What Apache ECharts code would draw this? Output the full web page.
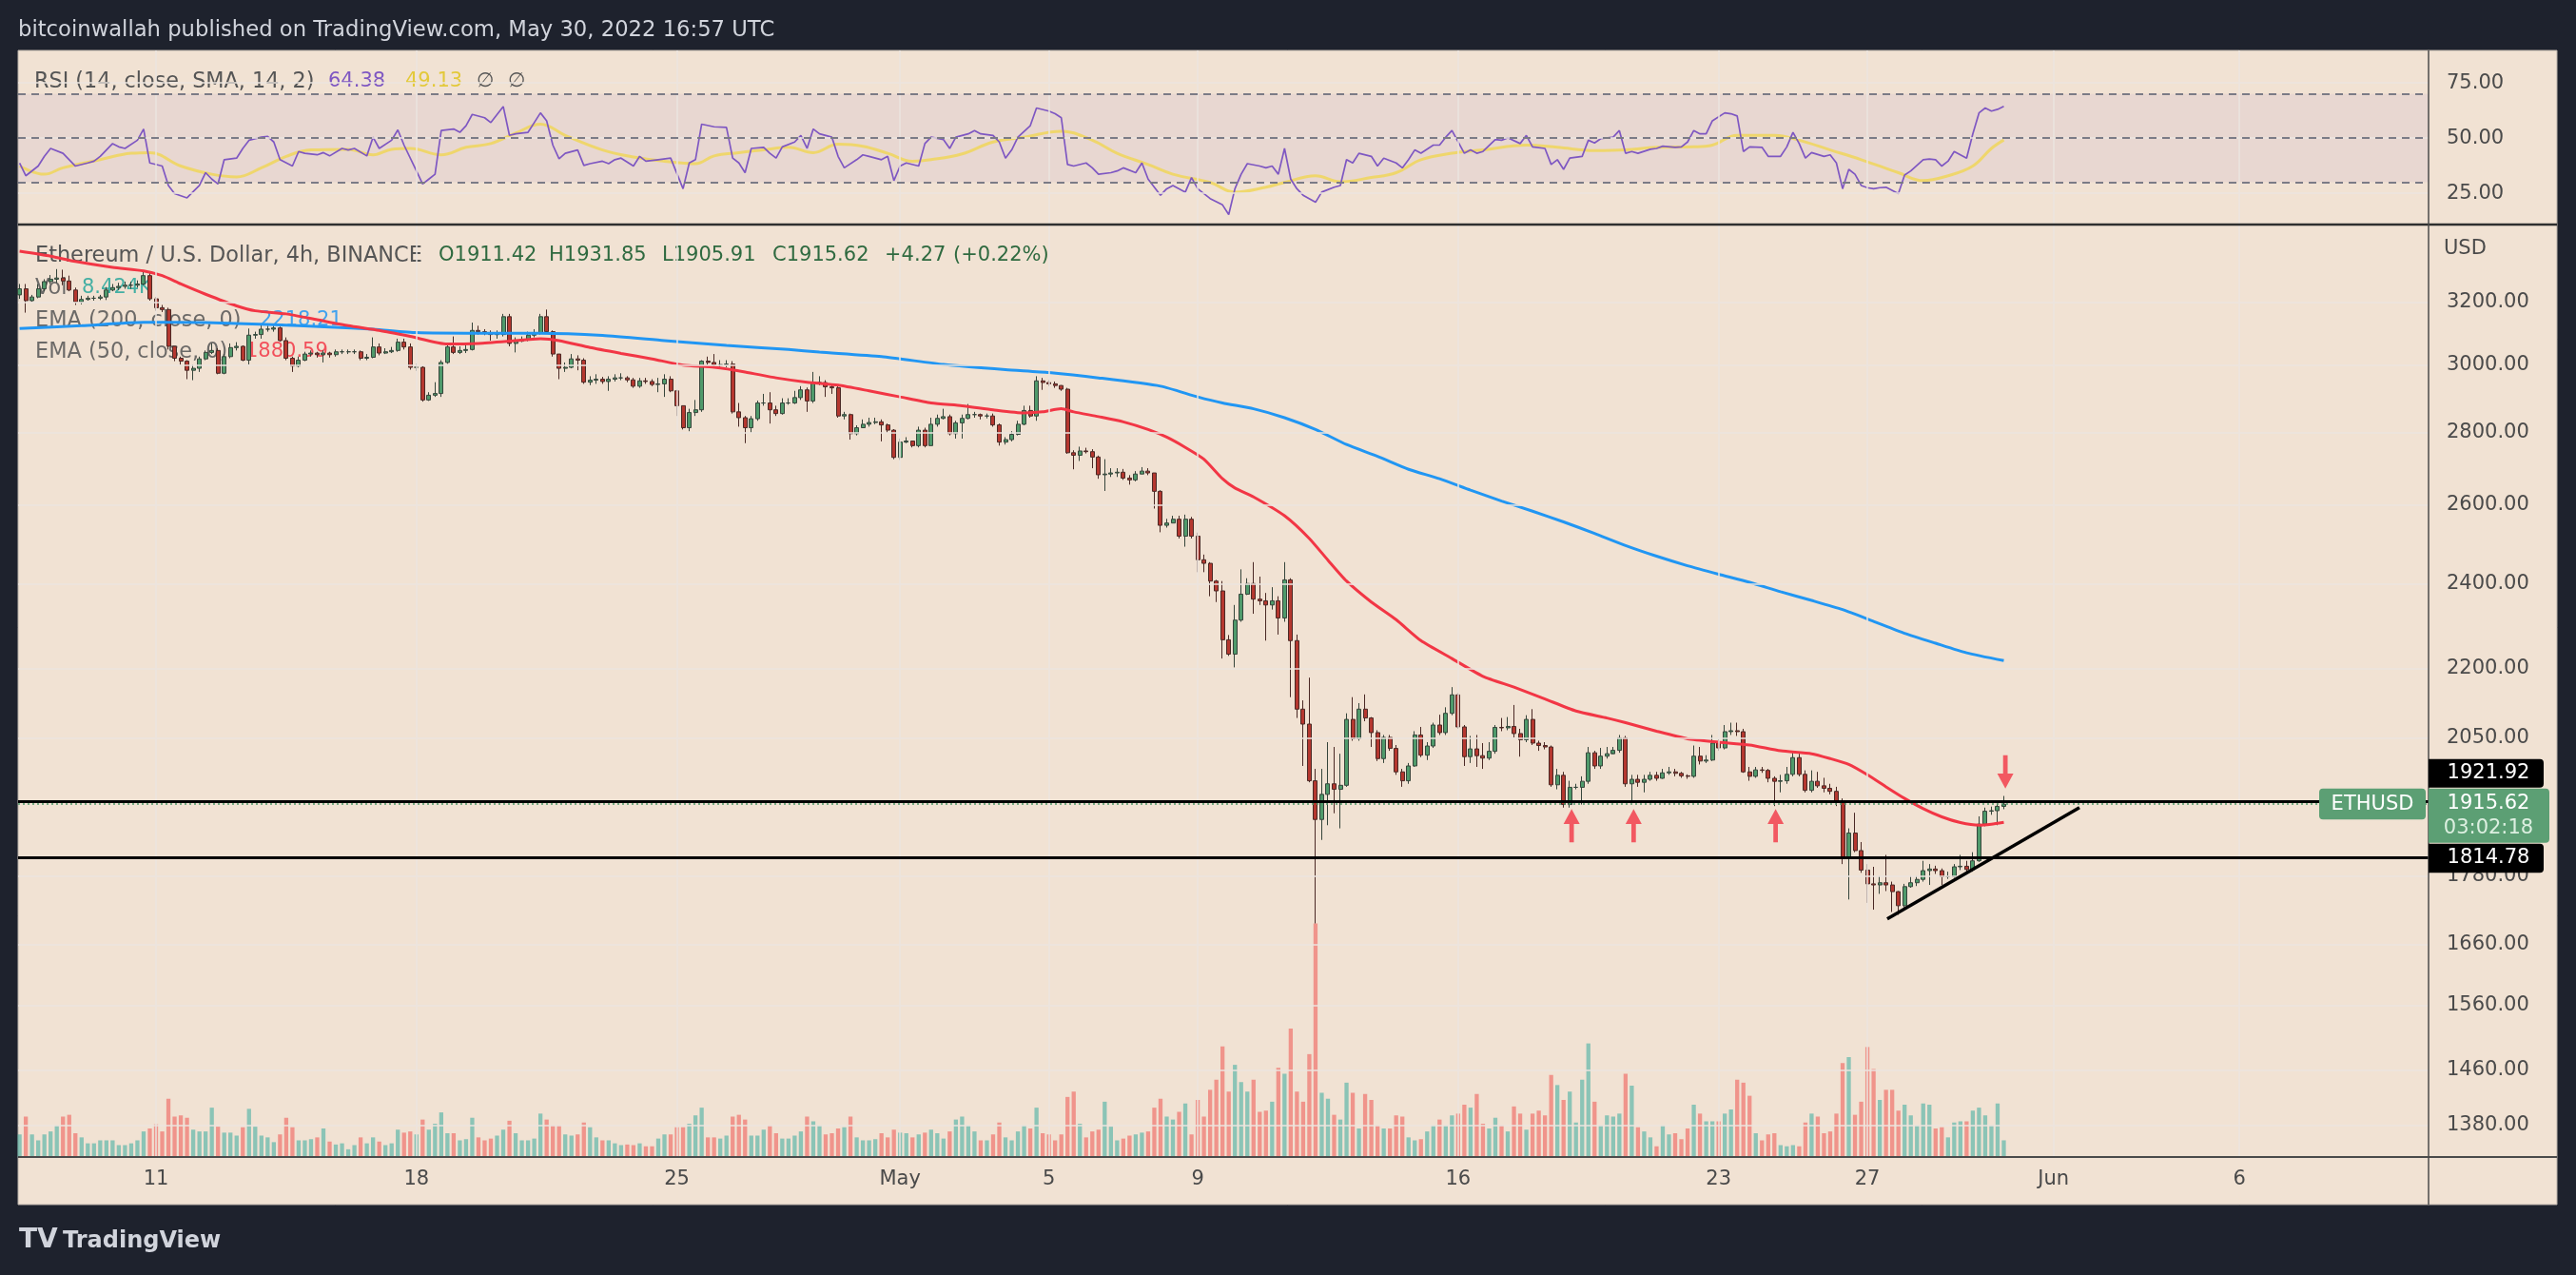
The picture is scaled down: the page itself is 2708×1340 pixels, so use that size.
<!DOCTYPE html>
<html><head><meta charset="utf-8">
<script src="https://cdn.jsdelivr.net/npm/echarts@6/dist/echarts.min.js"></script>
<style>html,body{margin:0;padding:0;background:#1e222d;}#c{width:2708px;height:1340px;}</style>
</head><body><div id="c"></div>
<script>
// ---------------- DATA ----------------
const dayTickIndex = [22,64,106,142,166,190,232,274,298,328,358];
const dayTickText  = ['11','18','25','May','5','9','16','23','27','Jun','6'];
const priceTicks = [3200,3000,2800,2600,2400,2200,2050,1780,1660,1560,1460,1380];
const rsiTicks = [25,50,75];
const rsiLevels = [70,50,30];

const opens = [
3223,3243,3204,3216,3243,3267,3275,3279,3269,3239,
3200,3208,3212,3212,3216,3239,3247,3251,3255,3255,
3259,3287,3210,3181,3175,3058,3021,3012,2984,2990,
3019,3039,3045,2975,3026,3054,3058,3015,3093,3095,
3112,3112,3116,3076,3021,2997,3015,3034,3037,3032,
3037,3032,3041,3041,3041,3041,3021,3024,3056,3037,
3041,3045,3071,3056,2993,2993,2895,2909,2914,3008,
3056,3039,3045,3048,3108,3104,3101,3095,3095,3152,
3067,3074,3080,3093,3101,3152,3104,3034,2990,2993,
3019,3015,2948,2954,2957,2950,2957,2961,2961,2955,
2936,2952,2950,2941,2943,2957,2922,2878,2814,2858,
2866,3012,3008,3001,3001,3003,2860,2843,2814,2840,
2886,2886,2866,2855,2886,2886,2902,2925,2892,2947,
2947,2934,2931,2848,2852,2797,2814,2824,2829,2831,
2822,2807,2730,2773,2776,2763,2807,2763,2824,2841,
2846,2797,2828,2841,2852,2852,2848,2848,2822,2773,
2780,2795,2824,2864,2848,2952,2947,2943,2938,2927,
2743,2736,2748,2746,2731,2682,2684,2687,2689,2673,
2668,2684,2692,2687,2637,2547,2553,2563,2519,2563,
2519,2459,2450,2406,2382,2266,2233,2312,2374,2400,
2362,2358,2348,2358,2317,2409,2264,2111,2079,1962,
1886,1935,1956,1945,1953,2089,2048,2111,2092,2061,
2007,2051,2028,1980,1962,1992,2056,2014,2033,2077,
2061,2102,2142,2073,2011,2027,2013,2008,2022,2072,
2071,2074,2059,2046,2089,2039,2034,2031,1954,1973,
1915,1949,1949,1961,2019,1992,2012,2017,2024,2050,
1956,1965,1959,1965,1973,1967,1978,1980,1977,1972,
1971,2012,2002,2004,2039,2029,2063,2065,2063,1980,
1971,1984,1983,1967,1961,1962,1975,2009,1975,1943,
1961,1952,1947,1941,1922,1813,1860,1827,1791,1766,
1764,1768,1764,1752,1727,1761,1768,1774,1790,1793,
1790,1779,1779,1797,1798,1792,1808,1877,1902,1903,
1911.42];

const closes = [
3243,3204,3216,3243,3267,3275,3279,3269,3239,3200,
3208,3212,3212,3216,3239,3247,3251,3255,3255,3259,
3287,3210,3181,3175,3058,3021,3012,2984,2990,3019,
3039,3045,2975,3026,3054,3058,3015,3093,3095,3112,
3112,3116,3076,3021,2997,3015,3034,3037,3032,3037,
3032,3041,3041,3041,3041,3021,3024,3056,3037,3041,
3045,3071,3056,2993,2993,2895,2909,2914,3008,3056,
3039,3045,3048,3108,3104,3101,3095,3095,3152,3067,
3074,3080,3093,3101,3152,3104,3034,2990,2993,3019,
3015,2948,2954,2957,2950,2957,2961,2961,2955,2936,
2952,2950,2941,2943,2957,2922,2878,2814,2858,2866,
3012,3008,3001,3001,3003,2860,2843,2814,2840,2886,
2886,2866,2855,2886,2886,2902,2925,2892,2947,2947,
2934,2931,2848,2852,2797,2814,2824,2829,2831,2822,
2807,2730,2773,2776,2763,2807,2763,2824,2841,2846,
2797,2828,2841,2852,2852,2848,2848,2822,2773,2780,
2795,2824,2864,2848,2952,2947,2943,2938,2927,2743,
2736,2748,2746,2731,2682,2684,2687,2689,2673,2668,
2684,2692,2687,2637,2547,2553,2563,2519,2563,2519,
2459,2450,2406,2382,2266,2233,2312,2374,2400,2362,
2358,2348,2358,2317,2409,2264,2111,2079,1962,1886,
1935,1956,1945,1953,2089,2048,2111,2092,2061,2007,
2051,2028,1980,1962,1992,2056,2014,2033,2077,2061,
2102,2142,2073,2011,2027,2013,2008,2022,2072,2071,
2074,2059,2046,2089,2039,2034,2031,1954,1973,1915,
1949,1949,1961,2019,1992,2012,2017,2024,2050,1956,
1965,1959,1965,1973,1967,1978,1980,1977,1972,1971,
2012,2002,2004,2039,2029,2063,2065,2063,1980,1971,
1984,1983,1967,1961,1962,1975,2009,1975,1943,1961,
1952,1947,1941,1922,1813,1860,1827,1791,1766,1764,
1768,1764,1752,1727,1761,1768,1774,1790,1793,1790,
1779,1779,1797,1798,1792,1808,1877,1902,1903,1911.42,
1915.62];

const highs = [
3259,3259,3223,3259,3275,3289,3309,3307,3287,3247,
3220,3220,3220,3223,3249,3259,3263,3267,3267,3271,
3299,3299,3216,3190,3181,3058,3026,3015,3001,3026,
3045,3067,3052,3034,3067,3071,3061,3114,3104,3127,
3123,3123,3120,3086,3026,3026,3041,3045,3041,3045,
3041,3048,3048,3048,3048,3045,3034,3086,3067,3052,
3056,3082,3082,3067,3004,2997,2918,2948,3015,3067,
3089,3058,3063,3133,3123,3112,3108,3108,3161,3161,
3086,3089,3104,3112,3161,3175,3108,3034,3008,3034,
3030,3021,2966,2972,2964,2966,2972,2975,2966,2961,
2961,2961,2957,2961,2972,2966,2925,2878,2869,2895,
3015,3026,3034,3015,3015,3012,2886,2848,2848,2893,
2913,2918,2878,2900,2900,2922,2936,2932,2979,2966,
2954,2939,2936,2860,2855,2821,2838,2843,2843,2838,
2826,2810,2783,2787,2776,2817,2814,2843,2852,2869,
2852,2834,2852,2883,2860,2855,2855,2855,2826,2787,
2804,2834,2878,2878,2966,2961,2954,2950,2939,2931,
2750,2760,2757,2753,2735,2725,2700,2700,2698,2681,
2692,2703,2700,2687,2640,2564,2572,2572,2575,2569,
2528,2472,2453,2409,2406,2277,2348,2435,2413,2453,
2417,2377,2391,2369,2453,2413,2278,2130,2180,1986,
1986,2041,2031,2017,2102,2137,2124,2143,2094,2066,
2056,2056,2035,1986,1998,2064,2073,2041,2082,2099,
2115,2159,2146,2077,2054,2056,2039,2041,2077,2092,
2094,2120,2069,2098,2111,2044,2041,2034,1986,1980,
1962,1956,1971,2031,2023,2029,2031,2031,2056,2054,
1974,1974,1974,1980,1980,1986,1990,1986,1980,1975,
2034,2031,2014,2056,2047,2077,2082,2082,2069,1990,
1990,1990,1986,1971,1974,1990,2019,2017,1983,1983,
1980,1968,1956,1950,1927,1869,1899,1843,1802,1797,
1780,1819,1770,1753,1766,1780,1780,1808,1802,1799,
1794,1788,1802,1819,1808,1824,1892,1909,1911,1917,
1931.85];

const lows = [
3210,3165,3200,3212,3235,3259,3263,3255,3235,3190,
3192,3204,3204,3206,3206,3235,3239,3243,3243,3247,
3255,3204,3171,3167,3048,3012,3001,2957,2954,2979,
3015,3034,2972,2972,3021,3045,3012,3002,3082,3082,
3104,3104,3073,3015,2979,2993,3012,3026,3023,3008,
3023,3026,3034,3034,3034,3015,3015,3021,3030,3034,
3037,3041,3048,2986,2982,2890,2892,2904,2904,3004,
3034,3034,3037,3045,3095,3093,3076,3082,3089,3058,
3039,3071,3074,3086,3095,3101,3026,2957,2979,2990,
2984,2943,2939,2943,2943,2922,2950,2954,2948,2931,
2931,2943,2936,2918,2904,2918,2848,2809,2804,2848,
2860,3001,2993,2990,2993,2855,2817,2770,2800,2834,
2878,2826,2848,2852,2881,2883,2895,2860,2886,2939,
2904,2913,2843,2838,2780,2792,2814,2817,2824,2775,
2800,2725,2723,2770,2758,2758,2758,2763,2817,2838,
2792,2783,2783,2838,2843,2838,2841,2817,2763,2766,
2775,2792,2821,2843,2834,2925,2936,2931,2922,2740,
2697,2720,2741,2700,2671,2638,2676,2676,2668,2655,
2664,2684,2681,2591,2529,2541,2553,2513,2492,2513,
2428,2428,2369,2355,2223,2229,2203,2308,2372,2327,
2348,2264,2337,2278,2308,2137,2092,1992,1959,1696,
1847,1875,1898,1869,1950,2044,2044,2085,2031,2002,
1998,2023,1974,1950,1956,1990,2010,2004,2029,2056,
2056,2098,2069,1992,1998,1990,1986,2004,2017,2064,
2066,2051,2011,2041,2035,2023,2026,1950,1945,1909,
1909,1945,1915,1956,1986,1986,2007,2019,2019,1950,
1921,1950,1939,1962,1962,1966,1974,1971,1968,1966,
1968,1995,1998,2002,2023,2026,2056,2054,1978,1962,
1968,1978,1959,1912,1939,1956,1971,1971,1939,1939,
1948,1939,1935,1912,1802,1738,1824,1786,1732,1720,
1748,1753,1716,1711,1724,1759,1762,1770,1764,1784,
1764,1775,1777,1791,1786,1788,1806,1873,1895,1875,
1905.91];

// volume, thousands of ETH
const volumes = [
11.4,20.4,11.4,8.4,11.4,12.9,15.9,20.4,21.3,12.0,
9.9,6.9,6.9,8.4,8.4,8.4,6.0,6.0,6.9,8.4,
12.9,14.4,16.5,12.9,29.4,20.4,21.0,19.8,13.8,12.9,
12.9,24.9,15.3,12.3,12.3,10.8,15.0,24.3,15.3,10.8,
9.9,7.5,11.4,19.8,15.0,8.4,8.4,9.0,9.9,14.4,
7.8,6.3,6.9,3.9,6.0,9.9,6.9,9.9,7.8,6.0,
6.9,13.8,12.3,12.9,11.4,18.9,13.8,16.8,22.5,12.0,
12.0,8.4,9.0,19.8,9.9,8.4,9.3,10.8,13.8,18.3,
12.0,8.4,8.4,9.3,21.9,18.9,15.9,15.9,11.4,10.8,
11.4,17.4,15.0,9.9,8.4,8.4,6.9,6.0,6.3,6.0,
6.9,5.4,5.4,9.3,11.4,11.4,15.0,15.0,16.8,21.0,
24.9,9.9,9.9,9.3,10.8,20.4,21.3,18.9,10.8,10.8,
13.8,15.9,12.0,9.3,9.3,10.8,12.9,20.4,18.0,15.9,
11.4,12.0,14.4,15.0,20.4,9.9,8.4,8.4,9.0,12.0,
9.9,13.8,12.3,12.0,9.9,11.4,12.3,13.8,12.0,9.3,
12.9,18.9,20.4,15.9,12.9,8.4,8.4,11.4,17.4,9.9,
8.4,12.9,15.9,14.4,24.9,12.0,11.4,8.4,11.4,30.3,
33.0,16.8,9.9,12.9,13.8,27.9,15.3,8.4,9.3,10.8,
11.4,12.3,12.9,24.9,29.4,20.4,18.9,22.8,27.0,11.4,
28.8,20.4,33.9,39.0,55.8,33.0,46.5,37.8,33.0,39.0,
22.8,23.4,27.9,45.0,42.0,64.8,33.0,27.9,51.9,117.9,
32.4,29.4,21.3,18.9,37.5,32.4,14.4,31.8,28.8,15.9,
14.4,14.4,21.0,20.4,9.9,8.4,9.0,12.9,15.9,18.9,
15.9,21.0,21.9,26.4,24.9,31.8,16.8,14.4,19.8,15.9,
12.9,25.5,21.9,13.8,21.9,23.4,21.0,41.4,36.3,28.8,
33.0,17.4,39.0,57.3,27.9,15.9,21.0,20.4,21.9,42.0,
36.0,15.0,12.9,9.9,5.4,15.9,11.4,12.0,9.0,14.4,
26.4,21.9,18.0,18.0,18.0,21.9,24.0,39.0,37.5,30.9,
12.0,8.4,11.4,12.0,6.0,5.4,6.0,5.4,17.4,21.9,
20.4,12.0,12.9,21.9,47.4,50.4,21.3,27.9,55.5,44.4,
28.8,33.9,33.9,23.4,26.4,21.0,15.9,27.0,26.4,14.4,
15.0,9.9,17.4,18.0,18.0,23.4,24.9,21.0,15.9,27.0,
8.424];

// EMA lines read at visible vertices: [candle index, price]
const ema50 = [[0,3370],[5,3353],[9,3335],[15,3315],[20,3303],[23,3287],[26,3259],[30,3225],[35,3187],[38,3171],[43,3161],[48,3142],[53,3123],[58,3108],[63,3089],[69,3065],[74,3067],[79,3074],[84,3082],[87,3076],[92,3054],[97,3036],[102,3019],[107,3000],[112,2993],[117,2979],[122,2961],[127,2948],[132,2939],[137,2922],[142,2904],[147,2886],[152,2878],[157,2866],[162,2857],[165,2860],[168,2869],[170,2860],[174,2846],[178,2831],[182,2809],[185,2787],[188,2758],[191,2725],[194,2671],[196,2646],[199,2622],[204,2572],[208,2513],[211,2458],[214,2406],[218,2355],[222,2313],[226,2264],[231,2223],[236,2183],[241,2159],[246,2133],[251,2107],[256,2092],[259,2082],[264,2064],[269,2048],[274,2041],[279,2035],[284,2023],[289,2017],[292,2007],[295,1995],[298,1974],[301,1950],[304,1927],[307,1907],[310,1891],[313,1880],[316,1875],[318,1877],[320,1880.59]];
const ema200 = [[0,3114],[10,3123],[20,3134],[30,3133],[40,3127],[50,3119],[57,3112],[64,3101],[74,3099],[84,3099],[94,3092],[104,3076],[114,3061],[124,3048],[129,3040],[139,3026],[149,3002],[159,2986],[166,2977],[174,2961],[184,2936],[190,2904],[194,2886],[199,2869],[204,2843],[209,2809],[214,2766],[219,2733],[224,2697],[229,2671],[234,2640],[239,2611],[244,2584],[249,2556],[254,2526],[259,2495],[264,2468],[269,2444],[274,2423],[279,2403],[284,2380],[289,2359],[294,2337],[299,2309],[304,2281],[309,2258],[314,2236],[320,2218.21]];

// RSI (14) and its SMA, read at visible vertices: [candle index, value]
const rsi = [[0,38.7],[1,32.9],[3,37.3],[4,41.7],[5,45.3],[7,43.1],[8,40.2],[9,37.3],[11,38.7],[12,39.5],[13,41.7],[15,47.5],[16,46.0],[17,45.3],[19,49.0],[20,54.1],[21,38.7],[23,37.3],[24,28.5],[25,24.8],[27,22.9],[29,28.5],[30,34.3],[31,31.4],[32,29.2],[33,40.2],[35,40.9],[36,45.3],[37,49.0],[39,50.4],[40,50.7],[41,48.2],[42,40.2],[44,37.3],[45,43.9],[46,43.1],[48,42.4],[49,43.4],[50,41.9],[52,45.3],[53,44.6],[54,45.3],[56,41.9],[57,50.4],[58,45.3],[60,49.0],[61,53.7],[62,46.8],[64,35.1],[65,29.2],[66,31.4],[67,33.6],[68,53.4],[70,54.1],[71,52.6],[72,55.6],[73,60.7],[75,59.2],[76,57.0],[78,64.3],[79,51.2],[80,51.9],[82,52.6],[83,57.0],[84,61.4],[85,57.8],[86,46.8],[87,40.6],[88,43.1],[90,44.6],[91,37.6],[92,38.4],[94,39.5],[95,38.4],[96,40.2],[97,40.9],[99,37.3],[100,41.7],[101,39.5],[103,40.2],[105,40.9],[107,27.0],[108,38.7],[109,40.2],[110,56.3],[112,55.1],[114,54.8],[115,40.9],[116,38.7],[117,34.3],[118,45.3],[120,45.8],[121,43.1],[122,40.9],[123,46.0],[125,48.2],[126,51.2],[127,45.3],[128,54.1],[129,51.9],[131,50.4],[132,41.7],[133,36.5],[135,40.2],[136,42.4],[137,41.7],[139,40.2],[140,41.7],[141,30.7],[142,37.3],[143,38.7],[145,37.3],[146,47.5],[147,50.4],[149,49.3],[150,45.3],[151,50.4],[153,51.9],[154,53.4],[155,51.9],[157,51.2],[158,48.2],[159,40.9],[160,44.6],[161,50.4],[163,55.6],[164,63.6],[166,62.2],[167,61.0],[168,59.2],[169,38.0],[170,37.3],[172,38.7],[173,36.5],[174,33.6],[176,34.3],[177,35.1],[178,36.5],[180,34.3],[181,38.7],[182,31.4],[184,24.1],[185,27.0],[186,28.5],[188,25.5],[189,32.1],[190,27.0],[192,22.6],[194,19.7],[195,15.3],[196,27.0],[197,33.6],[198,38.4],[200,37.3],[201,36.5],[202,37.3],[203,33.6],[204,45.3],[205,31.4],[206,27.0],[207,24.1],[209,20.9],[210,25.5],[212,27.7],[213,28.5],[214,40.2],[215,38.7],[216,43.1],[218,41.7],[219,37.3],[220,40.9],[222,38.7],[223,36.5],[224,40.2],[225,44.6],[226,43.1],[228,46.8],[229,46.8],[230,50.4],[231,53.4],[233,43.1],[234,44.6],[235,43.1],[236,43.9],[238,49.3],[239,49.0],[240,50.1],[242,47.5],[243,51.2],[244,46.0],[246,45.3],[247,38.0],[248,40.2],[249,35.8],[250,40.9],[252,41.7],[253,49.0],[254,47.8],[255,49.7],[257,50.4],[258,53.4],[259,43.1],[260,43.9],[261,43.1],[263,44.9],[264,45.3],[265,46.3],[267,45.8],[268,46.0],[269,48.2],[270,53.4],[271,51.9],[272,51.9],[273,57.8],[275,61.4],[276,61.0],[277,60.0],[278,43.9],[279,46.0],[281,45.8],[282,41.7],[284,41.7],[285,46.0],[286,52.6],[287,47.5],[288,40.9],[289,43.4],[291,41.7],[292,42.4],[293,38.7],[294,27.0],[295,35.8],[296,33.6],[297,28.5],[298,27.5],[299,27.0],[300,27.5],[301,27.7],[303,24.8],[304,33.2],[305,35.1],[307,40.2],[308,40.5],[309,40.2],[310,37.3],[311,39.5],[312,43.9],[314,40.9],[315,51.9],[316,61.4],[317,63.6],[318,62.2],[319,63.0],[320,64.38]];
const rsiSma = [[0,37.3],[4,33.6],[7,36.5],[13,40.2],[18,43.1],[21,43.4],[26,37.3],[31,33.6],[35,32.4],[39,36.5],[43,41.7],[47,44.6],[53,44.9],[57,42.4],[60,44.9],[63,45.3],[68,42.4],[72,45.8],[76,47.5],[80,52.2],[84,56.3],[88,51.2],[94,44.6],[99,41.4],[104,39.5],[109,38.4],[112,41.9],[116,43.4],[120,44.6],[124,45.8],[128,43.4],[132,47.2],[136,46.3],[140,43.1],[144,39.5],[147,40.2],[152,42.8],[157,48.2],[162,50.4],[168,53.1],[173,49.0],[177,43.1],[182,38.0],[186,33.6],[192,29.9],[196,25.5],[201,27.7],[204,29.9],[209,32.9],[213,30.2],[218,32.1],[222,34.3],[226,40.2],[231,43.1],[236,44.6],[243,46.8],[248,45.8],[254,44.3],[259,44.6],[264,45.8],[270,46.0],[273,46.8],[277,51.2],[283,51.2],[287,49.0],[292,44.6],[297,40.2],[303,34.3],[307,30.7],[311,32.9],[315,37.3],[318,45.3],[320,49.13]];

const supportLevels = [1921.92, 1814.78];
const lastPrice = 1915.62;
const countdown = '03:02:18';
const trendline = [[301.2,1704],[332.2,1909]];
const arrowsUp = [[250.3,1874],[260.3,1874],[283.2,1874]];
const arrowsDown = [[320.25,1980]];

const headerText = 'bitcoinwallah published on TradingView.com, May 30, 2022 16:57 UTC';
const symbolTitle = 'Ethereum / U.S. Dollar, 4h, BINANCE';
const ohlcText = ['O1911.42','H1931.85','L1905.91','C1915.62','+4.27','(+0.22%)'];
const rsiTitle = 'RSI (14, close, SMA, 14, 2)';
const rsiValues = ['64.38','49.13'];
const volValue = '8.424K';
const ema200Value = '2218.21';
const ema50Value = '1880.59';

// ---------------- STYLE ----------------
const FONT = 'DejaVu Sans';
const BG = '#f1e2d3';
const GRID = '#ebe4df';
const TXT = '#4a4a4a';
const UP = '#4f9a6b', DOWN = '#b5372f';
const VOL_UP = 'rgba(38,166,154,0.5)', VOL_DOWN = 'rgba(239,83,80,0.55)';
const X_MIN = -0.245, X_MAX = 388.5;

const candleRows = closes.map((c,i)=>[i, opens[i], c, lows[i], highs[i]]);
const volRows = volumes.map((v,i)=>[i, v]);

const noLine = {symbol:['none','none'], silent:true, animation:false, label:{show:false}};
const gridLineStyle = {color:GRID, width:1.5, type:'solid'};

const xAxes = [0,1,2].map(g => ({
  type:'value', gridIndex:g, min:X_MIN, max:X_MAX,
  axisLine:{show:false}, axisTick:{show:false}, splitLine:{show:false},
  axisLabel:{show:g===1, customValues:dayTickIndex, margin:13, color:TXT, fontFamily:FONT, fontSize:21,
    formatter:(v)=>{const k=dayTickIndex.indexOf(Math.round(v)); return k>=0?dayTickText[k]:'';}}
}));

const option = {
  backgroundColor:'#1e222d',
  animation:false,
  textStyle:{fontFamily:FONT},
  grid:[
    {left:19, top:53, width:2534, height:183},
    {left:19, top:236, width:2534, height:980},
    {left:19, top:816, width:2534, height:400}
  ],
  xAxis:xAxes,
  yAxis:[
    {type:'value', gridIndex:0, min:10.8, max:89.7, position:'right', z:5,
     axisLine:{show:false}, axisTick:{show:false}, splitLine:{show:false},
     axisLabel:{customValues:rsiTicks, margin:19, color:TXT, fontFamily:FONT, fontSize:21, formatter:v=>Number(v).toFixed(2)}},
    {type:'log', logBase:10, gridIndex:1, min:1336, max:3463, position:'right', z:5,
     axisLine:{show:false}, axisTick:{show:false}, splitLine:{show:false},
     axisLabel:{customValues:priceTicks, margin:19, color:TXT, fontFamily:FONT, fontSize:21, formatter:v=>Number(v).toFixed(2)}},
    {type:'value', gridIndex:2, min:0, max:192, show:false}
  ],
  series:[
    {type:'line', xAxisIndex:0, yAxisIndex:0, data:[[X_MIN,50]], symbol:'none', lineStyle:{width:0}, z:1, silent:true,
     markArea:{silent:true, itemStyle:{color:'rgba(126,87,194,0.08)'}, data:[[{yAxis:rsiLevels[2]},{yAxis:rsiLevels[0]}]]},
     markLine:Object.assign({}, noLine, {data:[
       ...dayTickIndex.map(v=>({xAxis:v, lineStyle:gridLineStyle})),
       ...rsiTicks.map(v=>({yAxis:v, lineStyle:gridLineStyle})),
       ...rsiLevels.map(v=>({yAxis:v, lineStyle:{color:'#7b7b86', width:2, type:[8,6]}}))
     ]})},
    {type:'line', xAxisIndex:1, yAxisIndex:1, data:[[X_MIN,3000]], symbol:'none', lineStyle:{width:0}, z:1, silent:true,
     markLine:Object.assign({}, noLine, {data:[
       ...dayTickIndex.map(v=>({xAxis:v, lineStyle:gridLineStyle})),
       ...priceTicks.map(v=>({yAxis:v, lineStyle:gridLineStyle}))
     ]})},
    {type:'bar', name:'Vol', xAxisIndex:2, yAxisIndex:2, data:volRows, barWidth:4.3, z:2, silent:true,
     itemStyle:{color:(p)=> closes[p.dataIndex] >= opens[p.dataIndex] ? VOL_UP : VOL_DOWN}},
    {type:'candlestick', name:'ETHUSD', xAxisIndex:1, yAxisIndex:1, data:candleRows, encode:{x:0, y:[1,2,3,4]},
     barWidth:4.5, z:3, silent:true,
     itemStyle:{color:UP, color0:DOWN, borderColor:'#36453b', borderColor0:'#4a2925', borderWidth:1}},
    {type:'line', name:'EMA200', xAxisIndex:1, yAxisIndex:1, data:ema200, symbol:'none', smooth:0.2, z:4, silent:true,
     lineStyle:{color:'#2196f3', width:3}},
    {type:'line', name:'EMA50', xAxisIndex:1, yAxisIndex:1, data:ema50, symbol:'none', smooth:0.2, z:4, silent:true,
     lineStyle:{color:'#f23645', width:3}},
    {type:'line', xAxisIndex:1, yAxisIndex:1, data:[[X_MIN,1900]], symbol:'none', lineStyle:{width:0}, z:5, silent:true,
     markLine:Object.assign({}, noLine, {data:[
       {yAxis:lastPrice, lineStyle:{color:'#4f9a6b', width:1.5, type:[2,3]}},
       ...supportLevels.map(v=>({yAxis:v, lineStyle:{color:'#000', width:3, type:'solid'}}))
     ]})},
    {type:'line', xAxisIndex:1, yAxisIndex:1, data:trendline, symbol:'none', z:5, silent:true,
     lineStyle:{color:'#000', width:3.5}},
    {type:'scatter', xAxisIndex:1, yAxisIndex:1, data:arrowsUp, z:6, silent:true,
     symbol:'path://M5,0 L10,9 L6.4,9 L6.4,20 L3.6,20 L3.6,9 L0,9 Z', symbolSize:[17,35], itemStyle:{color:'#f23645'}},
    {type:'scatter', xAxisIndex:1, yAxisIndex:1, data:arrowsDown, z:6, silent:true,
     symbol:'path://M5,0 L10,9 L6.4,9 L6.4,20 L3.6,20 L3.6,9 L0,9 Z', symbolSize:[17,35], symbolRotate:180, itemStyle:{color:'#f23645'}},
    {type:'line', name:'RSI SMA', xAxisIndex:0, yAxisIndex:0, data:rsiSma, symbol:'none', smooth:0.4, z:3, silent:true,
     lineStyle:{color:'rgba(240,214,90,0.85)', width:3}},
    {type:'line', name:'RSI', xAxisIndex:0, yAxisIndex:0, data:rsi, symbol:'none', z:4, silent:true,
     lineStyle:{color:'#7e57c2', width:1.7}}
  ]
};

const chart = echarts.init(document.getElementById('c'), null, {renderer:'canvas', width:2708, height:1340});
chart.setOption(option);

// ---------------- ANNOTATIONS ----------------
function txt(id, t, x, y, color, size, o){
  o = o || {};
  const align = o.align || 'left';
  return {type:'text', id, x, y, z:o.z!=null?o.z:2.5, silent:true,
    style:{text:t, fill:color, font:(o.weight||'normal')+' '+size+'px "'+FONT+'"',
      align, verticalAlign:'middle', textAlign:align, textVerticalAlign:'middle', opacity:o.opacity!=null?o.opacity:1}};
}
const py = v => chart.convertToPixel({yAxisIndex:1}, v);
const yA = py(supportLevels[0]), yB = py(supportLevels[1]), yP = py(lastPrice);
const LEG = '#555555';

const graphics = [
  {type:'rect', id:'bg', z:-5, silent:true, shape:{x:19, y:53, width:2669, height:1213}, style:{fill:BG, stroke:'#b9b1aa', lineWidth:1}},
  {type:'line', id:'sep1', z:10, silent:true, shape:{x1:19, y1:236, x2:2688, y2:236}, style:{stroke:'#2f2f2f', lineWidth:2.5}},
  {type:'line', id:'sep2', z:10, silent:true, shape:{x1:2553, y1:53, x2:2553, y2:1266}, style:{stroke:'#4a4a4a', lineWidth:1.5}},
  {type:'line', id:'sep3', z:10, silent:true, shape:{x1:19, y1:1216, x2:2688, y2:1216}, style:{stroke:'#4a4a4a', lineWidth:2}},
  txt('hdr', headerText, 19, 32, '#d1d4dc', 22.7, {z:10}),
  txt('usd', 'USD', 2569, 262, TXT, 21, {z:10}),
  txt('rsiT', rsiTitle, 36, 86, LEG, 22.3),
  txt('rsiV', rsiValues[0], 345, 86, '#7e57c2', 21),
  txt('rsiS', rsiValues[1], 426, 86, '#e3c93a', 21),
  txt('rsiN1', '\u2205', 501, 86, LEG, 21),
  txt('rsiN2', '\u2205', 534, 86, LEG, 21),
  txt('sym', symbolTitle, 37, 269, LEG, 22.4),
  txt('o', ohlcText[0], 461, 269, '#2f6a40', 21),
  txt('h', ohlcText[1], 577, 269, '#2f6a40', 21),
  txt('l', ohlcText[2], 696, 269, '#2f6a40', 21),
  txt('c', ohlcText[3], 812, 269, '#2f6a40', 21),
  txt('chg', ohlcText[4], 930, 269, '#2f6a40', 21),
  txt('chp', ohlcText[5], 1002, 269, '#2f6a40', 21),
  txt('vol', 'Vol', 37, 303, LEG, 22.4, {opacity:0.85}),
  txt('volv', volValue, 86, 303, '#26a69a', 21, {opacity:0.85}),
  txt('e200', 'EMA (200, close, 0)', 37, 337, LEG, 22.4, {opacity:0.85}),
  txt('e200v', ema200Value, 273, 337, '#2196f3', 21, {opacity:0.85}),
  txt('e50', 'EMA (50, close, 0)', 37, 370, LEG, 22.4, {opacity:0.85}),
  txt('e50v', ema50Value, 258, 370, '#f23645', 21, {opacity:0.85}),
  {type:'rect', id:'bxA', z:20, silent:true, shape:{x:2553, y:yA-44, width:121, height:30, r:[0,4,4,0]}, style:{fill:'#000'}},
  txt('bxAt', supportLevels[0].toFixed(2), 2616, yA-29, '#ffffff', 21, {align:'center', z:21}),
  {type:'rect', id:'bxP', z:20, silent:true, shape:{x:2553, y:yP-16.5, width:127, height:57, r:[0,4,4,0]}, style:{fill:'#5c9f74'}},
  txt('bxPt', lastPrice.toFixed(2), 2616, yP-0.5, '#ffffff', 21, {align:'center', z:21}),
  txt('bxPc', countdown, 2616, yP+25, '#dcefe0', 21, {align:'center', z:21}),
  {type:'rect', id:'bxB', z:20, silent:true, shape:{x:2553, y:yB-14, width:121, height:30.5, r:[0,4,4,0]}, style:{fill:'#000'}},
  txt('bxBt', supportLevels[1].toFixed(2), 2616, yB+1, '#ffffff', 21, {align:'center', z:21}),
  {type:'rect', id:'bxE', z:20, silent:true, shape:{x:2438, y:yP-16.5, width:112, height:32.5, r:4}, style:{fill:'#5c9f74'}},
  txt('bxEt', 'ETHUSD', 2494, yP, '#ffffff', 21, {align:'center', z:21}),
  txt('tvl', 'TV', 20, 1304, '#d1d4dc', 28, {weight:'900', z:10}),
  txt('tvt', 'TradingView', 66, 1305, '#d1d4dc', 24, {weight:'600', z:10})
];
chart.setOption({graphic:graphics});
</script></body></html>
